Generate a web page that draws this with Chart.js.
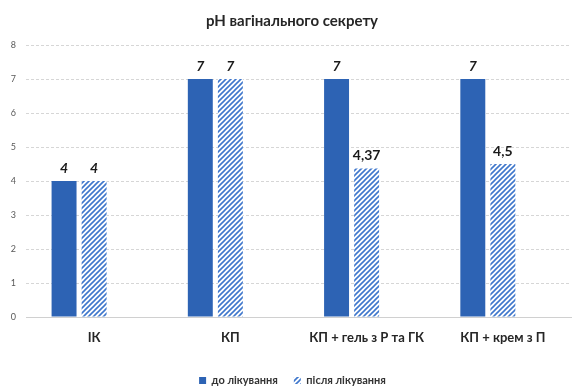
<!DOCTYPE html>
<html>
<head>
<meta charset="utf-8">
<script src="https://cdn.jsdelivr.net/npm/chart.js@4/dist/chart.umd.min.js"></script>
<style>
  html, body { margin: 0; padding: 0; background: #fff; }
  #wrap { width: 574px; height: 388px; }
</style>
</head>
<body>
<div id="wrap"><canvas id="c" width="574" height="388"></canvas></div>
<script>
// pH values before and after treatment, per patient group
const groups = ['ІК', 'КП', 'КП + гель з Р та ГК', 'КП + крем з П'];
const beforeTreatment = [4, 7, 7, 7];
const afterTreatment = [4, 7, 4.37, 4.5];
const seriesNames = ['до лікування', 'після лікування'];
const yTicks = [0, 1, 2, 3, 4, 5, 6, 7, 8];
const chartTitle = 'pH вагінального секрету';

const FONT = 'Lato, "Open Sans", "DejaVu Sans", sans-serif';
const BLUE = '#2d63b4';
const STRIPE = '#3f77cc';

// diagonal "/" hatching for the after-treatment bars
function hatch() {
  const s = 5;
  const p = document.createElement('canvas');
  p.width = s; p.height = s;
  const g = p.getContext('2d');
  g.fillStyle = '#ffffff';
  g.fillRect(0, 0, s, s);
  g.strokeStyle = STRIPE;
  g.lineWidth = 1.6;
  g.beginPath();
  g.moveTo(-1, s + 1); g.lineTo(s + 1, -1);
  g.moveTo(-1, 1); g.lineTo(1, -1);
  g.moveTo(s - 1, s + 1); g.lineTo(s + 1, s - 1);
  g.stroke();
  return g.createPattern(p, 'repeat');
}

const fmt = v => String(v).replace('.', ',');

// value labels above each visible bar
const valueLabels = {
  id: 'valueLabels',
  afterDatasetsDraw(chart) {
    const ctx = chart.ctx;
    ctx.save();
    ctx.fillStyle = '#1a1a1a';
    ctx.textAlign = 'center';
    ctx.textBaseline = 'middle';
    [0, 1].forEach(di => {
      const meta = chart.getDatasetMeta(di);
      const data = chart.data.datasets[di].data;
      meta.data.forEach((bar, i) => {
        const v = data[i];
        const italic = Number.isInteger(v) ? 'italic ' : '';
        ctx.font = italic + 'bold 14px ' + FONT;
        ctx.fillText(fmt(v), bar.x, bar.y - 13);
      });
    });
    ctx.restore();
  }
};

// chart heading, slightly right of the canvas centre
const heading = {
  id: 'heading',
  afterDraw(chart) {
    const ctx = chart.ctx;
    ctx.save();
    ctx.fillStyle = '#262626';
    ctx.font = 'bold 15px ' + FONT;
    ctx.textAlign = 'center';
    ctx.textBaseline = 'middle';
    ctx.fillText(chartTitle, 292, 21);
    ctx.restore();
  }
};

// push the legend row down and a little to the right
const legendOffset = {
  id: 'legendOffset',
  afterLayout(chart) {
    const lg = chart.legend;
    const dx = 7, dy = 8;
    lg.left += dx; lg.right += dx;
    lg.top += dy; lg.bottom += dy;
  }
};

new Chart(document.getElementById('c'), {
  type: 'bar',
  data: {
    labels: groups,
    datasets: [
      { label: seriesNames[0], data: beforeTreatment, backgroundColor: BLUE, borderWidth: 0 },
      { label: seriesNames[1], data: afterTreatment, backgroundColor: hatch(), borderWidth: 0 },
      // empty third slot in every group
      { label: '', data: groups.map(() => null), backgroundColor: 'rgba(0,0,0,0)' }
    ]
  },
  options: {
    responsive: false,
    animation: false,
    devicePixelRatio: 1,
    datasets: { bar: { categoryPercentage: 0.662, barPercentage: 0.83 } },
    layout: { padding: { left: 0, right: 3, top: 45, bottom: 0 } },
    plugins: {
      tooltip: { enabled: false },
      title: { display: false },
      legend: {
        position: 'bottom',
        labels: {
          filter: item => item.text !== '',
          boxWidth: 7,
          boxHeight: 7,
          padding: 16,
          color: '#333333',
          font: { family: FONT, size: 11, weight: 'bold' }
        }
      }
    },
    scales: {
      x: {
        grid: { display: false, drawTicks: false },
        border: { display: true, color: '#d0d0d0', dash: [3, 2], width: 1 },
        ticks: {
          padding: 13,
          color: '#262626',
          font: { family: FONT, size: 13, weight: 'bold' }
        },
        afterFit(scale) { scale.height = 34; }
      },
      y: {
        min: 0, max: 8,
        afterBuildTicks(scale) { scale.ticks = yTicks.map(v => ({ value: v })); },
        grid: { color: '#d6d6d6', drawTicks: false },
        border: { display: false, dash: [3, 2] },
        ticks: {
          padding: 10,
          color: '#595959',
          font: { family: FONT, size: 9 }
        },
        afterFit(scale) { scale.width = 26; }
      }
    }
  },
  plugins: [valueLabels, heading, legendOffset]
});
</script>
</body>
</html>
